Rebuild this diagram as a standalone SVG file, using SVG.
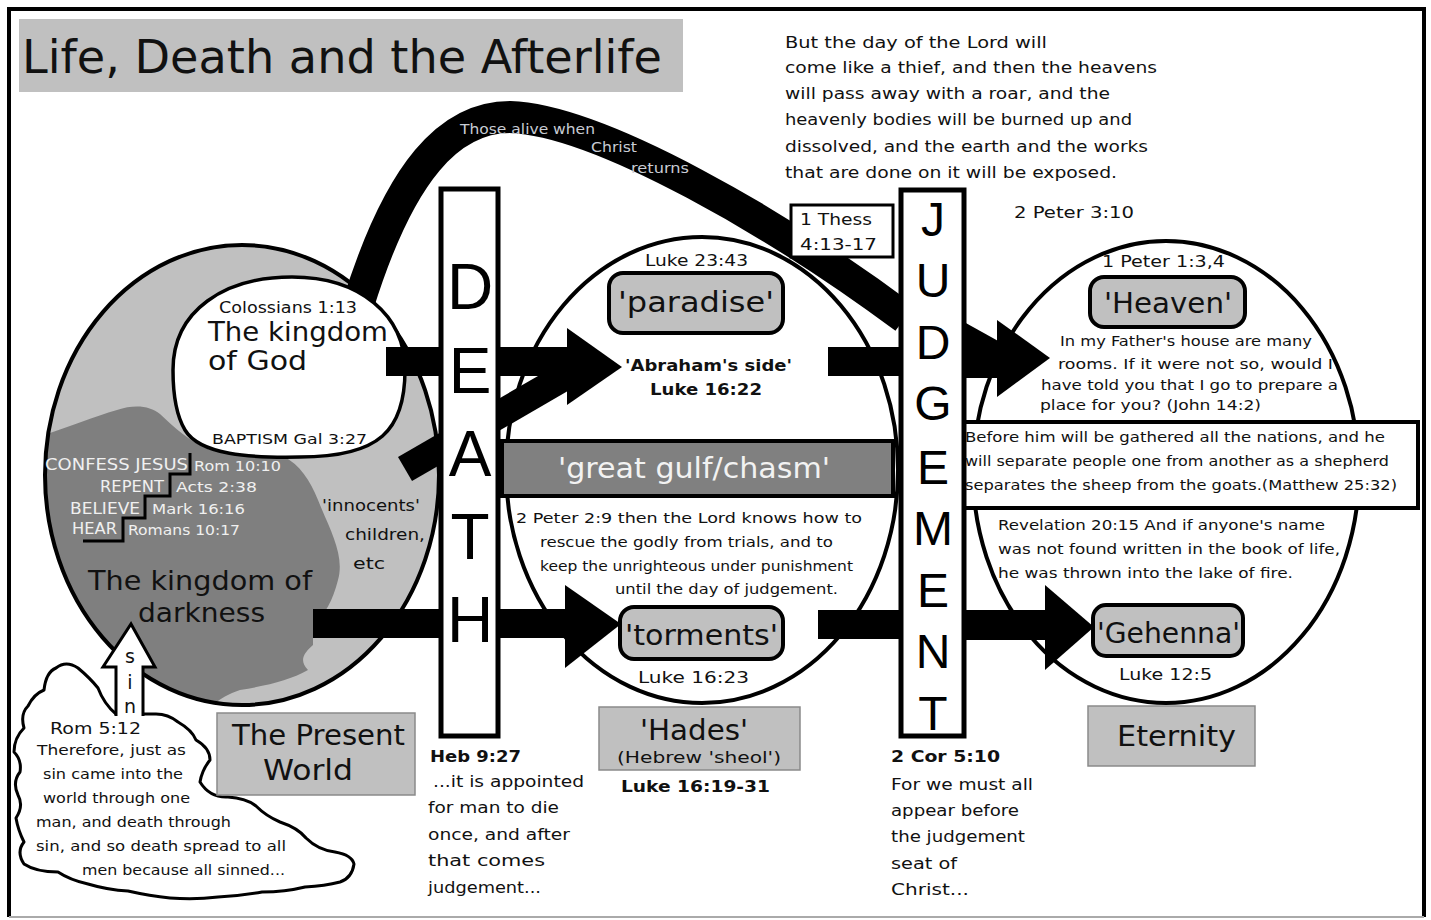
<svg xmlns="http://www.w3.org/2000/svg" width="1431" height="920" viewBox="0 0 1431 920">
<style>
text{font-family:"DejaVu Sans","Liberation Sans",sans-serif;fill:#111}
.b{font-weight:bold}
.lt{fill:#f0f0f0}
.band{fill:#c8ccd4}
.big{font-family:"Liberation Sans","DejaVu Sans",sans-serif;text-anchor:middle;fill:#000}
.blk{fill:#000;stroke:none}
.bar{fill:#fff;stroke:#000;stroke-width:5}
.rbox{fill:#c0c0c0;stroke:#000;stroke-width:4}
.gbox{fill:#c0c0c0;stroke:#8a8a8a;stroke-width:1.5}
.ell{fill:#fff;stroke:#000;stroke-width:4}
</style>
<defs>
<clipPath id="leftClip"><ellipse cx="242" cy="475" rx="197" ry="230"/></clipPath>
</defs>
<rect x="0" y="0" width="1431" height="920" fill="#fff"/>
<path d="M9 917 V9 H1424 V917" fill="none" stroke="#000" stroke-width="4"/>
<line x1="9" y1="917" x2="1424" y2="917" stroke="#aaa" stroke-width="2"/>

<g id="title">
<rect x="19" y="19" width="664" height="73" fill="#c0c0c0"/>
<text x="22" y="73" font-size="46" textLength="640" lengthAdjust="spacingAndGlyphs">Life, Death and the Afterlife</text>
</g>

<g id="present-world-circle">
<ellipse cx="242" cy="475" rx="197" ry="230" fill="#c0c0c0"/>
<path clip-path="url(#leftClip)" fill="#7f7f7f" d="M30 440 C60 430 90 418 117 410 C135 404 150 406 160 414 C175 428 190 442 210 450 L283 456 C300 465 310 480 318 500 C330 530 345 555 338 580 C333 600 325 615 313 625 L313 645 C305 652 298 660 308 670 C290 680 270 685 240 690 C225 695 215 702 205 712 L20 720 Z"/>
<ellipse cx="242" cy="475" rx="197" ry="230" fill="none" stroke="#000" stroke-width="4"/>
</g>

<g id="hades-ellipse"><ellipse class="ell" cx="702" cy="470" rx="196" ry="233"/></g>
<g id="eternity-ellipse"><ellipse class="ell" cx="1166" cy="472" rx="193" ry="231"/></g>

<g id="connectors">
<path d="M358 305 C400 170 450 117 510 117 C600 120 780 225 905 318" fill="none" stroke="#000" stroke-width="32"/>
<polygon class="blk" points="900,300 964,322 1000,342 1000,378 964,378 900,330"/>
<line x1="405" y1="469" x2="578" y2="369" stroke="#000" stroke-width="28"/>
<rect class="blk" x="386" y="347" width="183" height="29"/>
<polygon class="blk" points="567,328 622,367 567,405"/>
<rect class="blk" x="313" y="609" width="254" height="29"/>
<polygon class="blk" points="565,585 621,624 565,668"/>
<rect class="blk" x="828" y="347" width="80" height="29"/>
<rect class="blk" x="905" y="345" width="95" height="32"/>
<polygon class="blk" points="997,320 1050,358 997,397"/>
<rect class="blk" x="818" y="610" width="90" height="29"/>
<rect class="blk" x="905" y="610" width="145" height="30"/>
<polygon class="blk" points="1045,585 1094,627 1045,670"/>
</g>

<g id="band-label">
<text class="band" x="460" y="134" font-size="14" textLength="135" lengthAdjust="spacingAndGlyphs">Those alive when</text>
<text class="band" x="591" y="152" font-size="14" textLength="46" lengthAdjust="spacingAndGlyphs">Christ</text>
<text class="band" x="631" y="173" font-size="14" textLength="58" lengthAdjust="spacingAndGlyphs">returns</text>
</g>

<g id="kingdom-of-god">
<path d="M173 370 C173 310 225 277 292 277 C360 277 405 315 405 370 C405 430 380 457 300 457 C250 458 200 455 185 430 C176 415 173 395 173 370 Z" fill="#fff" stroke="#000" stroke-width="3.5"/>
<rect class="blk" x="386" y="347" width="30" height="29"/>
<text x="219" y="313" font-size="15" textLength="138" lengthAdjust="spacingAndGlyphs">Colossians 1:13</text>
<text x="208" y="341" font-size="27" textLength="180" lengthAdjust="spacingAndGlyphs">The kingdom</text>
<text x="208" y="370" font-size="27" textLength="99" lengthAdjust="spacingAndGlyphs">of God</text>
<text x="212" y="444" font-size="14" textLength="155" lengthAdjust="spacingAndGlyphs">BAPTISM Gal 3:27</text>
</g>

<g id="kingdom-of-darkness">
<polyline points="190,453 190,474 170,474 170,496 145,496 145,518 123,518 123,541 83,541" fill="none" stroke="#000" stroke-width="3"/>
<text class="lt" x="45" y="470" font-size="15" textLength="143" lengthAdjust="spacingAndGlyphs">CONFESS JESUS</text>
<text class="lt" x="194" y="471" font-size="14" textLength="87" lengthAdjust="spacingAndGlyphs">Rom 10:10</text>
<text class="lt" x="100" y="492" font-size="15" textLength="64" lengthAdjust="spacingAndGlyphs">REPENT</text>
<text class="lt" x="176" y="492" font-size="14" textLength="81" lengthAdjust="spacingAndGlyphs">Acts 2:38</text>
<text class="lt" x="70" y="514" font-size="15" textLength="70" lengthAdjust="spacingAndGlyphs">BELIEVE</text>
<text class="lt" x="152" y="514" font-size="14" textLength="93" lengthAdjust="spacingAndGlyphs">Mark 16:16</text>
<text class="lt" x="72" y="534" font-size="15" textLength="45" lengthAdjust="spacingAndGlyphs">HEAR</text>
<text class="lt" x="128" y="535" font-size="14" textLength="112" lengthAdjust="spacingAndGlyphs">Romans 10:17</text>
<text x="88" y="590" font-size="27" textLength="224" lengthAdjust="spacingAndGlyphs">The kingdom of</text>
<text x="138" y="622" font-size="27" textLength="127" lengthAdjust="spacingAndGlyphs">darkness</text>
</g>

<g id="innocents">
<text x="322" y="511" font-size="15" textLength="98" lengthAdjust="spacingAndGlyphs">'innocents'</text>
<text x="345" y="540" font-size="15" textLength="80" lengthAdjust="spacingAndGlyphs">children,</text>
<text x="353" y="569" font-size="15" textLength="32" lengthAdjust="spacingAndGlyphs">etc</text>
</g>

<g id="sin-cloud">
<path fill="#fff" stroke="#000" stroke-width="3" stroke-linejoin="round" d="M116 714 Q104 704 98 688 Q90 678 78 668 Q66 660 56 668 Q46 672 44 690 Q34 694 28 706 Q20 714 24 728 Q14 738 14 752 Q22 760 20 772 Q12 782 18 795 Q24 806 16 818 Q18 830 24 842 Q16 852 24 864 Q36 872 58 872 Q70 880 88 884 Q108 890 128 891 Q150 896 170 898 Q195 900 218 897 Q240 896 262 892 Q285 892 305 887 Q325 886 340 882 Q352 878 354 864 Q352 855 335 852 Q318 850 306 838 Q298 828 280 822 Q266 816 256 806 Q246 798 228 797 Q210 798 200 782 Q202 770 210 760 Q210 748 196 740 Q192 730 178 722 Q168 714 156 714 Z"/>
<polygon points="131,625 155,667 143,667 143,718 116,718 116,667 103,667" fill="#fff"/>
<path d="M116 716 V667 H103 L131 624 L155 667 H143 V716" fill="none" stroke="#000" stroke-width="3" stroke-linejoin="miter"/>
<text x="130" y="663" font-size="19" text-anchor="middle">s</text>
<text x="130" y="689" font-size="19" text-anchor="middle">i</text>
<text x="130" y="713" font-size="19" text-anchor="middle">n</text>
<text x="50" y="734" font-size="16" textLength="91" lengthAdjust="spacingAndGlyphs">Rom 5:12</text>
<text x="37" y="755" font-size="14" textLength="149" lengthAdjust="spacingAndGlyphs">Therefore, just as</text>
<text x="43" y="779" font-size="14" textLength="140" lengthAdjust="spacingAndGlyphs">sin came into the</text>
<text x="43" y="803" font-size="14" textLength="147" lengthAdjust="spacingAndGlyphs">world through one</text>
<text x="36" y="827" font-size="14" textLength="195" lengthAdjust="spacingAndGlyphs">man, and death through</text>
<text x="36" y="851" font-size="14" textLength="250" lengthAdjust="spacingAndGlyphs">sin, and so death spread to all</text>
<text x="82" y="875" font-size="14" textLength="203" lengthAdjust="spacingAndGlyphs">men because all sinned...</text>
</g>

<g id="present-world-label">
<rect class="gbox" x="217" y="713" width="198" height="82"/>
<text x="232" y="745" font-size="29" textLength="173" lengthAdjust="spacingAndGlyphs">The Present</text>
<text x="263" y="780" font-size="29" textLength="90" lengthAdjust="spacingAndGlyphs">World</text>
</g>

<g id="chasm">
<rect x="502" y="441" width="391" height="55" fill="#808080" stroke="#000" stroke-width="4"/>
<text x="558" y="478" font-size="29" textLength="272" lengthAdjust="spacingAndGlyphs" style="fill:#f2f2f2">'great gulf/chasm'</text>
</g>

<g id="paradise">
<rect class="rbox" x="609" y="273" width="174" height="60" rx="14"/>
<text x="618" y="312" font-size="29" textLength="156" lengthAdjust="spacingAndGlyphs">'paradise'</text>
<text x="645" y="266" font-size="16" textLength="103" lengthAdjust="spacingAndGlyphs">Luke 23:43</text>
<text class="b" x="625" y="371" font-size="15" textLength="167" lengthAdjust="spacingAndGlyphs">'Abraham's side'</text>
<text class="b" x="650" y="395" font-size="16" textLength="112" lengthAdjust="spacingAndGlyphs">Luke 16:22</text>
</g>

<g id="peter-2-9">
<text x="516" y="523" font-size="14" textLength="346" lengthAdjust="spacingAndGlyphs">2 Peter 2:9  then the Lord knows how to</text>
<text x="540" y="547" font-size="14" textLength="293" lengthAdjust="spacingAndGlyphs">rescue the godly from trials, and to</text>
<text x="540" y="571" font-size="14" textLength="313" lengthAdjust="spacingAndGlyphs">keep the unrighteous under punishment</text>
<text x="615" y="594" font-size="14" textLength="223" lengthAdjust="spacingAndGlyphs">until the day of judgement.</text>
</g>

<g id="torments">
<rect class="rbox" x="620" y="607" width="163" height="52" rx="14"/>
<text x="625" y="645" font-size="29" textLength="153" lengthAdjust="spacingAndGlyphs">'torments'</text>
<text x="638" y="683" font-size="16" textLength="111" lengthAdjust="spacingAndGlyphs">Luke 16:23</text>
</g>

<g id="hades">
<rect class="gbox" x="599" y="707" width="201" height="63"/>
<text x="640" y="740" font-size="28" textLength="108" lengthAdjust="spacingAndGlyphs">'Hades'</text>
<text x="617" y="763" font-size="16" textLength="164" lengthAdjust="spacingAndGlyphs">(Hebrew 'sheol')</text>
<text class="b" x="621" y="792" font-size="16" textLength="149" lengthAdjust="spacingAndGlyphs">Luke 16:19-31</text>
</g>

<g id="death">
<rect class="bar" x="441" y="189" width="57" height="547"/>
<text class="big" x="470" y="309" font-size="64">D</text>
<text class="big" x="470" y="393" font-size="64">E</text>
<text class="big" x="470" y="476" font-size="64">A</text>
<text class="big" x="470" y="559" font-size="64">T</text>
<text class="big" x="470" y="642" font-size="64">H</text>
</g>

<g id="matthew">
<rect x="958" y="422" width="460" height="86" fill="#fff" stroke="#000" stroke-width="4"/>
<text x="965" y="442" font-size="14" textLength="420" lengthAdjust="spacingAndGlyphs">Before him will be gathered all the nations, and he</text>
<text x="965" y="466" font-size="14" textLength="424" lengthAdjust="spacingAndGlyphs">will separate people one from another as a shepherd</text>
<text x="965" y="490" font-size="14" textLength="432" lengthAdjust="spacingAndGlyphs">separates the sheep from the goats.(Matthew 25:32)</text>
</g>

<g id="judgement">
<rect class="bar" x="901" y="190" width="63" height="546"/>
<text class="big" x="933" y="236" font-size="48">J</text>
<text class="big" x="933" y="297" font-size="48">U</text>
<text class="big" x="933" y="359" font-size="48">D</text>
<text class="big" x="933" y="420" font-size="48">G</text>
<text class="big" x="933" y="484" font-size="48">E</text>
<text class="big" x="933" y="545" font-size="48">M</text>
<text class="big" x="933" y="607" font-size="48">E</text>
<text class="big" x="933" y="668" font-size="48">N</text>
<text class="big" x="933" y="730" font-size="48">T</text>
</g>

<g id="thess">
<rect x="791" y="205" width="102" height="52" fill="#fff" stroke="#000" stroke-width="3"/>
<text x="800" y="225" font-size="16" textLength="72" lengthAdjust="spacingAndGlyphs">1 Thess</text>
<text x="800" y="250" font-size="16" textLength="77" lengthAdjust="spacingAndGlyphs">4:13-17</text>
</g>

<g id="peter-3-10">
<text x="785" y="48" font-size="16" textLength="262" lengthAdjust="spacingAndGlyphs">But the day of the Lord will</text>
<text x="785" y="73" font-size="16" textLength="372" lengthAdjust="spacingAndGlyphs">come like a thief, and then the heavens</text>
<text x="785" y="99" font-size="16" textLength="325" lengthAdjust="spacingAndGlyphs">will pass away with a roar, and the</text>
<text x="785" y="125" font-size="16" textLength="347" lengthAdjust="spacingAndGlyphs">heavenly bodies will be burned up and</text>
<text x="785" y="152" font-size="16" textLength="363" lengthAdjust="spacingAndGlyphs">dissolved, and the earth and the works</text>
<text x="785" y="178" font-size="16" textLength="332" lengthAdjust="spacingAndGlyphs">that are done on it will be exposed.</text>
<text x="1014" y="218" font-size="16" textLength="120" lengthAdjust="spacingAndGlyphs">2 Peter 3:10</text>
</g>

<g id="heaven">
<rect class="rbox" x="1090" y="277" width="155" height="50" rx="14"/>
<text x="1104" y="313" font-size="29" textLength="128" lengthAdjust="spacingAndGlyphs">'Heaven'</text>
<text x="1102" y="267" font-size="15" textLength="123" lengthAdjust="spacingAndGlyphs">1 Peter 1:3,4</text>
<text x="1060" y="346" font-size="14" textLength="252" lengthAdjust="spacingAndGlyphs">In my Father's house are many</text>
<text x="1058" y="369" font-size="14" textLength="275" lengthAdjust="spacingAndGlyphs">rooms. If it were not so, would I</text>
<text x="1041" y="390" font-size="14" textLength="297" lengthAdjust="spacingAndGlyphs">have told you that I go to prepare a</text>
<text x="1040" y="410" font-size="14" textLength="221" lengthAdjust="spacingAndGlyphs">place for you? (John 14:2)</text>
</g>

<g id="gehenna">
<text x="998" y="530" font-size="14" textLength="327" lengthAdjust="spacingAndGlyphs">Revelation 20:15  And if anyone's name</text>
<text x="998" y="554" font-size="14" textLength="342" lengthAdjust="spacingAndGlyphs">was not found written in the book of life,</text>
<text x="998" y="578" font-size="14" textLength="295" lengthAdjust="spacingAndGlyphs">he was thrown into the lake of fire.</text>
<rect class="rbox" x="1093" y="605" width="150" height="51" rx="13"/>
<text x="1097" y="643" font-size="29" textLength="143" lengthAdjust="spacingAndGlyphs">'Gehenna'</text>
<text x="1119" y="680" font-size="16" textLength="93" lengthAdjust="spacingAndGlyphs">Luke 12:5</text>
</g>

<g id="eternity">
<rect class="gbox" x="1088" y="706" width="167" height="60"/>
<text x="1117" y="746" font-size="29" textLength="119" lengthAdjust="spacingAndGlyphs">Eternity</text>
</g>

<g id="heb-9-27">
<text class="b" x="430" y="762" font-size="16" textLength="91" lengthAdjust="spacingAndGlyphs">Heb 9:27</text>
<text x="433" y="787" font-size="16" textLength="151" lengthAdjust="spacingAndGlyphs">...it is appointed</text>
<text x="428" y="813" font-size="16" textLength="131" lengthAdjust="spacingAndGlyphs">for man to die</text>
<text x="428" y="840" font-size="16" textLength="142" lengthAdjust="spacingAndGlyphs">once, and after</text>
<text x="428" y="866" font-size="16" textLength="117" lengthAdjust="spacingAndGlyphs">that comes</text>
<text x="428" y="893" font-size="16" textLength="113" lengthAdjust="spacingAndGlyphs">judgement...</text>
</g>

<g id="cor-5-10">
<text class="b" x="891" y="762" font-size="16" textLength="109" lengthAdjust="spacingAndGlyphs">2 Cor 5:10</text>
<text x="891" y="790" font-size="16" textLength="142" lengthAdjust="spacingAndGlyphs">For we must all</text>
<text x="891" y="816" font-size="16" textLength="128" lengthAdjust="spacingAndGlyphs">appear before</text>
<text x="891" y="842" font-size="16" textLength="134" lengthAdjust="spacingAndGlyphs">the judgement</text>
<text x="891" y="869" font-size="16" textLength="66" lengthAdjust="spacingAndGlyphs">seat of</text>
<text x="891" y="895" font-size="16" textLength="78" lengthAdjust="spacingAndGlyphs">Christ...</text>
</g>
</svg>
